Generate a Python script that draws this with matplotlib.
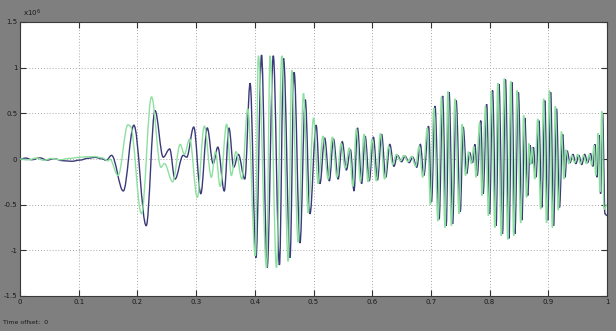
import numpy as np
import matplotlib
matplotlib.use("Agg")
from matplotlib import pyplot as plt
from matplotlib.path import Path
from matplotlib.patches import PathPatch
from matplotlib.ticker import FuncFormatter

# scope signals, stored as turning points (time in s, amplitude in units of 1e6)
blue_t = [0.000, 0.010, 0.020, 0.034, 0.046, 0.058, 0.072, 0.088, 0.102, 0.116,
          0.128, 0.140, 0.147, 0.156, 0.176, 0.194, 0.215, 0.230, 0.244, 0.255,
          0.264, 0.278, 0.284, 0.296, 0.308, 0.319, 0.329, 0.337, 0.348, 0.356,
          0.364, 0.372, 0.383, 0.392, 0.402, 0.4115, 0.421, 0.4315, 0.442, 0.449,
          0.460, 0.467, 0.477, 0.486, 0.494, 0.5045, 0.511, 0.519, 0.527, 0.534,
          0.542, 0.549, 0.556, 0.563, 0.569, 0.575, 0.582, 0.588, 0.595, 0.602,
          0.609, 0.616, 0.623, 0.630, 0.637, 0.643, 0.650, 0.656, 0.663, 0.669,
          0.676, 0.682, 0.688, 0.696, 0.701, 0.707, 0.714, 0.720, 0.726, 0.731,
          0.737, 0.743, 0.750, 0.755, 0.761, 0.766, 0.771, 0.775, 0.779, 0.785,
          0.789, 0.795, 0.800, 0.805, 0.811, 0.816, 0.822, 0.827, 0.833, 0.838,
          0.843, 0.849, 0.855, 0.860, 0.865, 0.869, 0.872, 0.8745, 0.879, 0.884,
          0.889, 0.894, 0.899, 0.904, 0.909, 0.914, 0.919, 0.9245, 0.9285, 0.932,
          0.937, 0.942, 0.947, 0.952, 0.957, 0.962, 0.967, 0.972, 0.976, 0.9795,
          0.983, 0.9865, 0.989, 0.9925, 0.9965, 1.000]
blue_v = [0.00, 0.010, -0.008, 0.012, -0.012, 0.004, -0.018, -0.025, -0.012, 0.008,
          0.018, 0.002, -0.015, 0.04, -0.35, 0.37, -0.73, 0.53, 0.02, 0.11,
          -0.22, 0.04, 0.02, 0.35, -0.38, 0.34, -0.05, 0.13, -0.35, 0.34,
          -0.09, 0.05, -0.22, 0.83, -1.08, 1.14, -1.19, 1.13, -1.16, 1.10,
          -1.08, 0.95, -0.92, 0.65, -0.60, 0.37, -0.27, 0.23, -0.24, 0.22,
          -0.22, 0.19, -0.12, 0.10, -0.35, 0.34, -0.27, 0.25, -0.24, 0.24,
          -0.23, 0.27, -0.20, 0.16, -0.08, 0.04, -0.03, 0.03, -0.04, 0.02,
          -0.09, 0.16, -0.18, 0.36, -0.47, 0.58, -0.66, 0.69, -0.73, 0.73,
          -0.71, 0.64, -0.58, 0.35, -0.16, 0.07, -0.04, 0.16, -0.18, 0.42,
          -0.38, 0.60, -0.60, 0.75, -0.73, 0.82, -0.82, 0.87, -0.87, 0.84,
          -0.82, 0.73, -0.67, 0.45, -0.40, 0.15, -0.05, 0.13, -0.20, 0.42,
          -0.53, 0.64, -0.67, 0.73, -0.73, 0.55, -0.53, 0.27, -0.20, 0.09,
          -0.04, 0.05, -0.05, 0.04, -0.06, 0.05, -0.04, 0.06, -0.08, 0.16,
          -0.20, 0.26, -0.38, 0.49, -0.60, -0.62]

green_t = [0.000, 0.014, 0.028, 0.040, 0.054, 0.068, 0.084, 0.100, 0.114, 0.128,
           0.140, 0.150, 0.153, 0.167, 0.184, 0.188, 0.207, 0.224, 0.240, 0.246,
           0.260, 0.273, 0.280, 0.289, 0.302, 0.314, 0.326, 0.333, 0.341, 0.352,
           0.360, 0.368, 0.378, 0.388, 0.401, 0.406, 0.420, 0.426, 0.437, 0.446,
           0.457, 0.463, 0.474, 0.483, 0.491, 0.500, 0.508, 0.516, 0.525, 0.532,
           0.540, 0.547, 0.554, 0.561, 0.567, 0.573, 0.580, 0.586, 0.593, 0.600,
           0.607, 0.614, 0.621, 0.628, 0.635, 0.641, 0.648, 0.654, 0.661, 0.667,
           0.674, 0.680, 0.686, 0.694, 0.699, 0.705, 0.712, 0.718, 0.724, 0.729,
           0.735, 0.741, 0.748, 0.753, 0.759, 0.764, 0.769, 0.773, 0.777, 0.783,
           0.787, 0.793, 0.798, 0.803, 0.809, 0.814, 0.820, 0.825, 0.831, 0.836,
           0.841, 0.847, 0.853, 0.858, 0.863, 0.867, 0.870, 0.8725, 0.877, 0.882,
           0.887, 0.892, 0.897, 0.902, 0.907, 0.912, 0.917, 0.9225, 0.9265, 0.930,
           0.935, 0.940, 0.945, 0.950, 0.955, 0.960, 0.965, 0.970, 0.974, 0.978,
           0.981, 0.985, 0.988, 0.991, 0.995, 1.000]
green_v = [0.00, -0.010, 0.010, -0.014, 0.006, -0.008, 0.006, 0.018, 0.024, 0.026,
           0.012, -0.020, 0.00, -0.18, 0.375, 0.36, -0.60, 0.68, -0.09, -0.05,
           -0.25, 0.16, 0.05, 0.22, -0.42, 0.36, -0.20, 0.08, -0.30, 0.38,
           -0.18, 0.08, -0.22, 0.55, -1.06, 1.13, -1.19, 1.13, -1.19, 1.13,
           -1.12, 0.97, -0.91, 0.72, -0.59, 0.45, -0.27, 0.25, -0.22, 0.24,
           -0.20, 0.17, -0.10, 0.12, -0.30, 0.33, -0.25, 0.27, -0.25, 0.22,
           -0.24, 0.28, -0.22, 0.14, -0.06, 0.05, -0.02, 0.04, -0.03, 0.03,
           -0.08, 0.14, -0.20, 0.34, -0.50, 0.56, -0.68, 0.68, -0.75, 0.74,
           -0.73, 0.66, -0.60, 0.38, -0.18, 0.08, -0.05, 0.14, -0.20, 0.40,
           -0.40, 0.58, -0.62, 0.74, -0.75, 0.83, -0.84, 0.88, -0.88, 0.85,
           -0.84, 0.75, -0.70, 0.48, -0.42, 0.17, -0.06, 0.12, -0.22, 0.44,
           -0.55, 0.66, -0.70, 0.75, -0.75, 0.58, -0.56, 0.30, -0.22, 0.10,
           -0.05, 0.04, -0.04, 0.05, -0.05, 0.04, -0.05, 0.05, -0.07, 0.15,
           -0.18, 0.28, -0.36, 0.52, -0.55, -0.50]

scale = 1e6
x_ticks = [0, 0.1, 0.2, 0.3, 0.4, 0.5, 0.6, 0.7, 0.8, 0.9, 1]
y_ticks = [-1.5, -1, -0.5, 0, 0.5, 1, 1.5]

BG = "#7f7f7f"
BLUE = "#3a3979"
GREEN = "#8ee0a0"


def turning_point_path(ts, vs, k=0.36):
    # cubic segments with flat tangents at every turning point
    verts = [(ts[0], vs[0] * scale)]
    codes = [Path.MOVETO]
    for i in range(1, len(ts)):
        t0, t1 = ts[i - 1], ts[i]
        v0, v1 = vs[i - 1] * scale, vs[i] * scale
        d = t1 - t0
        verts += [(t0 + k * d, v0), (t1 - k * d, v1), (t1, v1)]
        codes += [Path.CURVE4] * 3
    return Path(verts, codes)


fig = plt.figure(figsize=(6.16, 3.31), dpi=100, facecolor=BG)
ax = fig.add_axes([20 / 616, 1 - 296 / 331, 587 / 616, 274 / 331])
ax.set_facecolor("white")

ax.add_patch(PathPatch(turning_point_path(blue_t, blue_v), fill=False,
                       edgecolor=BLUE, lw=1.0, zorder=3))
ax.add_patch(PathPatch(turning_point_path(green_t, green_v), fill=False,
                       edgecolor=GREEN, lw=1.0, zorder=3))

ax.set_xlim(0, 1)
ax.set_ylim(-1.5 * scale, 1.5 * scale)
ax.set_xticks(x_ticks)
ax.set_yticks([v * scale for v in y_ticks])
ax.xaxis.set_major_formatter(FuncFormatter(lambda v, p: f"{v:g}"))
ax.yaxis.set_major_formatter(FuncFormatter(lambda v, p: f"{v / scale:g}"))

ax.grid(True, color="#a8a8a8", linestyle=(0, (1, 2)), linewidth=0.7)
ax.tick_params(direction="in", length=4, width=0.8, color="#333333",
               top=True, right=True, labelsize=5, labelcolor="#1a1a1a", pad=2)
for s in ax.spines.values():
    s.set_color("#3a3a3a")
    s.set_linewidth(0.8)

# exponent label above the y axis, scope style
fig.text(23 / 616, 1 - 19 / 331, r"x10$^{6}$", fontsize=5, color="#1a1a1a",
         va="bottom", ha="left")
fig.text(3 / 616, 1 - 322 / 331, "Time offset:  0", fontsize=4.5,
         color="#1a1a1a", va="center", ha="left")

fig.savefig("out.png", dpi=100, facecolor=BG)
